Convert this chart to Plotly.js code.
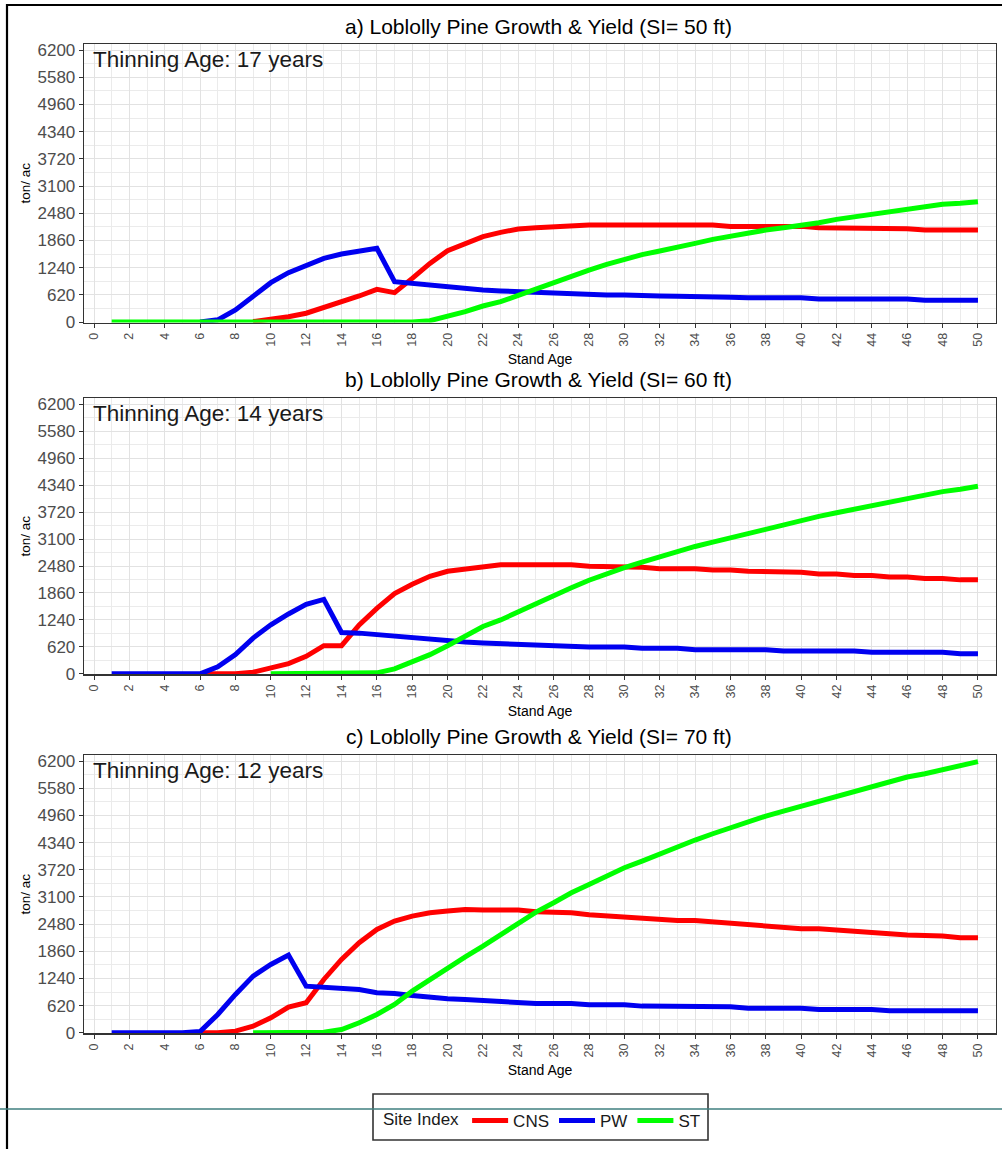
<!DOCTYPE html>
<html>
<head>
<meta charset="utf-8">
<script src="https://cdn.plot.ly/plotly-3.0.1.min.js"></script>
<style>
  html, body { margin: 0; padding: 0; background: #ffffff; }
  #chart { width: 1002px; height: 1149px; }
</style>
</head>
<body>
<div id="chart"></div>
<script>
// ---------- data ----------
const ages = [1,2,3,4,5,6,7,8,9,10,11,12,13,14,15,16,17,18,19,20,21,22,23,24,25,
              26,27,28,29,30,31,32,33,34,35,36,37,38,39,40,41,42,43,44,45,46,47,48,49,50];

const seriesNames = ["CNS", "PW", "ST"];
const panelTitles = [
  "a) Loblolly Pine Growth & Yield (SI= 50 ft)",
  "b) Loblolly Pine Growth & Yield (SI= 60 ft)",
  "c) Loblolly Pine Growth & Yield (SI= 70 ft)"
];
const thinningLabels = ["Thinning Age: 17 years", "Thinning Age: 14 years", "Thinning Age: 12 years"];
const yTickLabels = [0, 620, 1240, 1860, 2480, 3100, 3720, 4340, 4960, 5580, 6200];

// Panel a (SI = 50 ft)
const cnsA = [null,null,null,null,null,null,null,null,10,60,120,200,327,440,593,745,669,995,1337,1626,
              1793,1945,2044,2120,2150,2173,2203,2211,2211,2211,2211,2211,2211,2211,2211,2180,2180,2180,2180,2180,
              2150,2150,2150,2127,2127,2127,2097,2097,2097,2097];
const pwA  = [null,null,null,null,null,0,50,274,593,897,1125,1300,1451,1550,1626,1679,920,880,836,820,
              760,730,707,690,676,646,646,615,615,615,593,593,585,585,585,562,555,555,555,555,
              524,524,524,524,524,524,494,494,494,494];
const stA  = [0,0,0,0,0,0,0,0,0,0,0,0,0,0,0,0,0,0,30,120,
              235,365,463,608,752,919,1064,1185,1315,1436,1535,1618,1717,1793,1884,1960,2021,2097,2150,2196,
              2264,2340,2401,2454,2515,2576,2629,2682,2705,2743];

// Panel b (SI = 60 ft)
const cnsB = [null,null,null,null,null,0,0,0,38,137,236,403,647,647,1126,1506,1848,2061,2244,2358,
              2404,2457,2510,2510,2510,2510,2510,2472,2472,2472,2449,2419,2419,2419,2389,2389,2358,2358,2335,2335,
              2297,2297,2259,2259,2229,2229,2191,2191,2161,2161];
const pwB  = [0,0,0,0,0,0,160,441,822,1126,1377,1597,1712,951,936,898,875,822,784,761,
              730,707,692,677,669,631,631,616,616,616,586,586,586,555,555,555,555,555,525,525,
              525,525,525,494,494,494,494,494,464,464];
const stB  = [null,null,null,null,null,null,null,null,null,0,0,0,0,0,0,23,114,266,441,647,
              860,1088,1240,1430,1620,1810,1978,2153,2305,2442,2571,2700,2822,2929,3028,3126,3233,3332,3446,3537,
              3621,3705,3788,3880,3963,4032,4115,4191,4245,4313];

// Panel c (SI = 70 ft)
const cnsC = [null,null,null,null,null,0,0,38,152,342,586,685,1217,1674,2054,2358,2548,2662,2739,2777,
              2815,2800,2800,2800,2761,2761,2739,2693,2662,2632,2602,2579,2564,2564,2533,2495,2465,2434,2411,2373,
              2373,2351,2313,2290,2259,2229,2229,2206,2168,2168];
const pwC  = [0,0,0,0,0,30,418,875,1293,1559,1772,1065,1042,1019,989,913,898,852,806,776,
              761,738,700,700,669,669,669,639,639,639,609,609,609,593,593,593,563,563,563,563,
              532,532,532,532,502,502,502,502,502,502];
const stC  = [null,null,null,null,null,null,null,null,0,0,0,0,15,76,228,418,647,951,1217,1483,
              1734,1978,2244,2495,2754,2967,3195,3385,3590,3765,3918,4085,4245,4397,4541,4678,4815,4944,5059,5173,
              5287,5401,5515,5606,5720,5834,5911,6010,6101,6185];

const panelData = [[cnsA, pwA, stA], [cnsB, pwB, stB], [cnsC, pwC, stC]];

// ---------- styling ----------
const FONT = "Liberation Sans, Arial, Helvetica, sans-serif";
const colors = ["#ff0000", "#0000f0", "#00ff00"];
const W = 1002, H = 1149;
const px = v => v / W;
const py = v => 1 - v / H;

// plot-area pixel boxes (top, bottom)
const boxes = [[44, 322.5], [398.3, 674.3], [755, 1033.3]];
const titleY = [26, 379, 736];
const plotL = 84, plotR = 996;

const traces = [];
panelData.forEach((set, p) => {
  set.forEach((vals, s) => {
    traces.push({
      type: "scatter",
      mode: "lines",
      x: ages,
      y: vals,
      name: seriesNames[s],
      legendgroup: seriesNames[s],
      showlegend: p === 0,
      connectgaps: false,
      line: { color: colors[s], width: 5 },
      xaxis: p === 0 ? "x" : "x" + (p + 1),
      yaxis: p === 0 ? "y" : "y" + (p + 1),
      hoverinfo: "x+y+name"
    });
  });
});

const layout = {
  width: W, height: H, autosize: false,
  margin: { l: 0, r: 0, t: 0, b: 0, pad: 0 },
  paper_bgcolor: "#ffffff",
  plot_bgcolor: "#ffffff",
  font: { family: FONT, color: "#000000" },
  showlegend: true,
  legend: {
    orientation: "h",
    x: px(381), xanchor: "left",
    y: py(1121), yanchor: "middle",
    bgcolor: "rgba(0,0,0,0)",
    borderwidth: 0,
    font: { family: FONT, size: 17, color: "#1a1a1a" },
    title: { text: "Site Index", side: "left", font: { family: FONT, size: 17, color: "#1a1a1a" } },
    itemwidth: 36,
    traceorder: "normal"
  },
  shapes: [],
  annotations: []
};

boxes.forEach((b, p) => {
  const sx = p === 0 ? "" : String(p + 1);
  layout["xaxis" + sx] = {
    domain: [px(plotL), px(plotR)],
    anchor: "y" + sx,
    range: [-0.566, 51.02],
    tickmode: "linear", tick0: 0, dtick: 2,
    tickangle: -90,
    ticks: "outside", ticklen: 4, tickwidth: 1, tickcolor: "#333333",
    tickfont: { family: FONT, size: 12.5, color: "#4d4d4d" },
    showgrid: true, gridcolor: "#e2e2e2", gridwidth: 1,
    minor: { dtick: 1, tick0: 0, showgrid: true, gridcolor: "#ebebeb", gridwidth: 1, ticks: "" },
    zeroline: false,
    showline: true, mirror: true, linecolor: "#333333", linewidth: 1.3,
    title: { text: "Stand Age", font: { family: FONT, size: 14, color: "#000000" }, standoff: 8 },
    fixedrange: true
  };
  layout["yaxis" + sx] = {
    domain: [py(b[1]), py(b[0])],
    anchor: "x" + sx,
    range: [-11, 6337],
    tickmode: "array", tickvals: yTickLabels, ticktext: yTickLabels.map(String),
    ticks: "outside", ticklen: 4, tickwidth: 1, tickcolor: "#333333",
    tickfont: { family: FONT, size: 17, color: "#4d4d4d" },
    showgrid: true, gridcolor: "#e2e2e2", gridwidth: 1,
    minor: { dtick: 310, tick0: 0, showgrid: true, gridcolor: "#ebebeb", gridwidth: 1, ticks: "" },
    zeroline: false,
    showline: true, mirror: true, linecolor: "#333333", linewidth: 1.3,
    title: { text: "ton/ ac", font: { family: FONT, size: 13.5, color: "#000000" }, standoff: 3 },
    fixedrange: true
  };
  layout.annotations.push({
    xref: "paper", yref: "paper", x: px(538.5), y: py(titleY[p]),
    xanchor: "center", yanchor: "middle", showarrow: false,
    text: panelTitles[p], font: { family: FONT, size: 21, color: "#000000" }
  });
  layout.annotations.push({
    xref: "paper", yref: "paper", x: px(91), y: py(b[0] + 15.5),
    xanchor: "left", yanchor: "middle", showarrow: false,
    text: thinningLabels[p], font: { family: FONT, size: 22.5, color: "#1a1a1a" }
  });
});

// outer frame, legend box and stray horizontal rule
layout.shapes.push({
  type: "rect", xref: "paper", yref: "paper", layer: "above",
  x0: px(7), x1: 1.02, y0: -0.02, y1: py(5),
  line: { color: "#000000", width: 2.2 }, fillcolor: "rgba(0,0,0,0)"
});
layout.shapes.push({
  type: "rect", xref: "paper", yref: "paper", layer: "above",
  x0: px(373), x1: px(708), y0: py(1140), y1: py(1094),
  line: { color: "#333333", width: 1.6 }, fillcolor: "#ffffff"
});
layout.shapes.push({
  type: "line", xref: "paper", yref: "paper", layer: "above",
  x0: 0, x1: 1, y0: py(1109), y1: py(1109),
  line: { color: "#3f7f7f", width: 1.5 }
});

Plotly.newPlot("chart", traces, layout, { staticPlot: true, displayModeBar: false });
</script>
</body>
</html>
